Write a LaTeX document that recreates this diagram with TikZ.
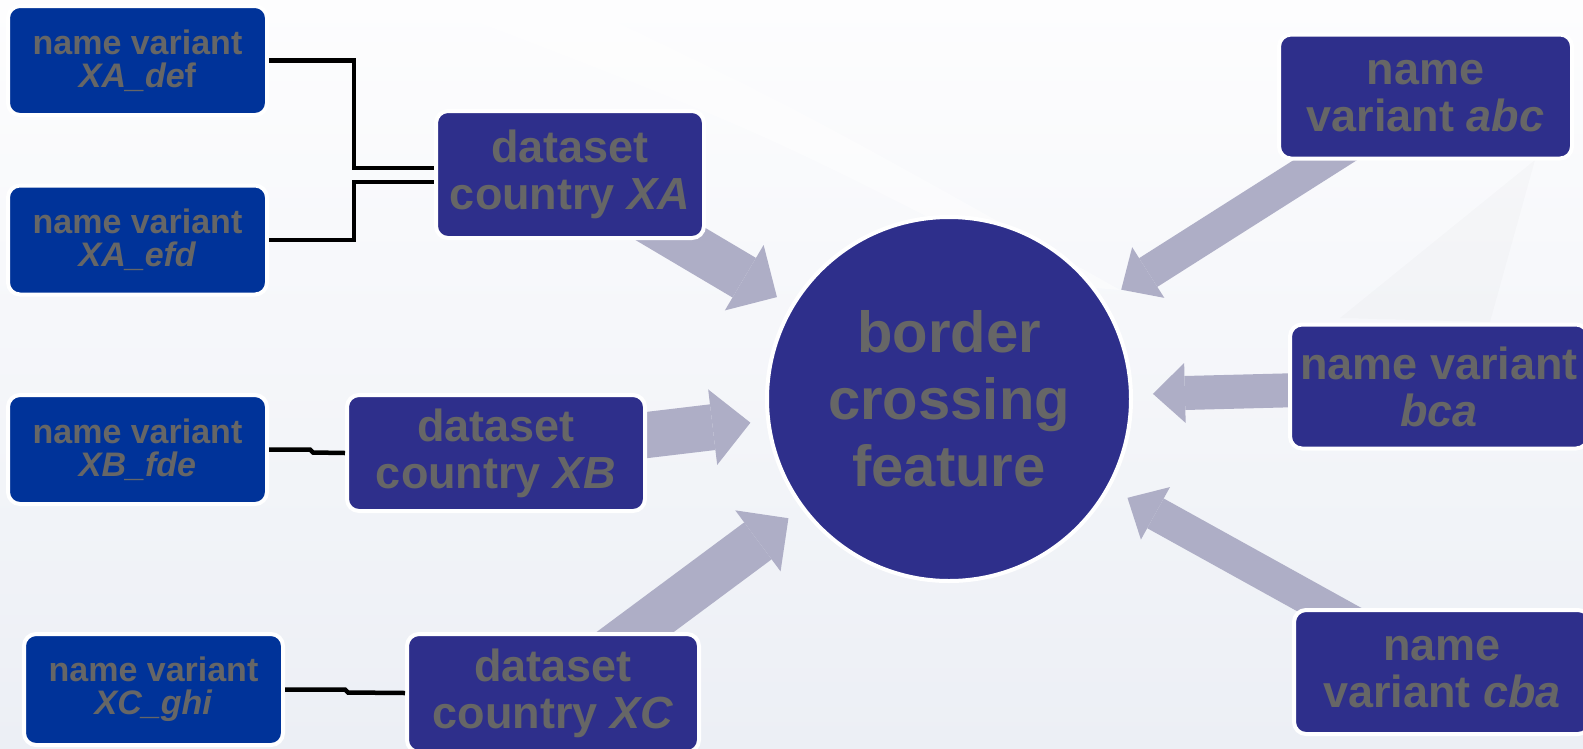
\documentclass[tikz,border=0pt]{standalone}
\usepackage{fontspec}
\setmainfont{Liberation Sans}
\usetikzlibrary{arrows.meta}

\definecolor{nvblue}{RGB}{0,51,153}
\definecolor{dsblue}{RGB}{46,47,139}
\definecolor{txtgray}{RGB}{102,102,102}
\definecolor{arrowgray}{RGB}{174,174,198}
\definecolor{bgtop}{RGB}{253,253,254}
\definecolor{bgbot}{RGB}{236,239,245}

\pgfdeclarelayer{bg}
\pgfdeclarelayer{arrowlayer}
\pgfsetlayers{bg,arrowlayer,main}

\tikzset{
 nvbox/.style={draw=white, line width=4pt, fill=nvblue, rounded corners=12pt, text=txtgray,
   font=\bfseries\fontsize{34}{33}\selectfont, align=center, inner sep=0pt,
   minimum width=259pt, minimum height=109pt},
 dsbox/.style={nvbox, fill=dsblue, font=\bfseries\fontsize{45}{47}\selectfont},
 rightbox/.style={dsbox, minimum width=295pt, minimum height=124pt},
 hub/.style={circle, draw=white, line width=4pt, fill=dsblue, text=txtgray,
   font=\bfseries\fontsize{58}{67}\selectfont, align=center, minimum size=364pt, inner sep=0pt},
 link/.style={black, line width=4.5pt},
 bigarrow/.style={arrowgray, line width=46pt, shorten >=16pt,
   -{Triangle[width=76pt,length=38pt,line width=0pt]}},
 smallarrow/.style={arrowgray, line width=34pt, shorten >=20pt,
   -{Triangle[width=60pt,length=32pt,line width=0pt]}}
}

\begin{document}
\begin{tikzpicture}[x=1pt,y=-1pt]
\useasboundingbox (0,0) rectangle (1583,748);
\begin{pgfonlayer}{bg}
\shade[top color=bgtop, bottom color=bgbot] (0,0) rectangle (1583,748);
\fill[white, opacity=.45] (420,0) -- (570,0) .. controls (800,110) .. (1120,290) -- (1060,285) .. controls (760,130) .. cycle;
\fill[black, opacity=.015] (1340,318) -- (1535,160) -- (1490,322) -- cycle;
\end{pgfonlayer}

% left: name variants
\node[nvbox] (nvxadef) at (137.5,60.5) {name variant\\\textit{XA\_de}f};
\node[nvbox] (nvxaefd) at (137.5,240) {name variant\\\textit{XA\_efd}};
\node[nvbox] (nvxbfde) at (137.5,449.5) {name variant\\\textit{XB\_fde}};
\node[nvbox, minimum height=111pt] (nvxcghi) at (153.5,689.5) {name variant\\\textit{XC\_ghi}};

% datasets
\node[dsbox, minimum width=268pt, minimum height=127pt] (dsxa) at (570,174.5) {dataset\\country \textit{XA}};
\node[dsbox, minimum width=298pt, minimum height=116pt] (dsxb) at (496,453) {dataset\\country \textit{XB}};
\node[dsbox, minimum width=292pt, minimum height=118pt] (dsxc) at (553,693) {dataset\\country \textit{XC}};

% centre
\node[hub] (bcf) at (949,399) {border\\crossing\\feature};

% right: name variants
\node[rightbox, minimum width=293pt] (nvabc) at (1425.5,96.5) {name\\variant \textit{abc}};
\node[rightbox, minimum width=298pt] (nvbca) at (1439,386.5) {name variant\\\textit{bca}};
\node[rightbox, minimum width=296pt] (nvcba) at (1442,672) {name\\variant \textit{cba}};

% links
\draw[link] (nvxadef.east) -- ++(85,0) |- ([yshift=6.5pt]dsxa.west);
\draw[link] (nvxaefd.east) -- ++(85,0) |- ([yshift=-7.5pt]dsxa.west);
\draw[link] (nvxbfde.east) -- ++(41,0) -- ++(3,3) -- (dsxb.west);
\draw[link] (nvxcghi.east) -- ++(60,0) -- ++(3,3) -- (dsxc.west);

\begin{pgfonlayer}{arrowlayer}
\foreach \src in {dsxa,dsxb,dsxc} \draw[bigarrow] (\src.center) -- (bcf);
\foreach \src in {nvabc,nvbca,nvcba} \draw[smallarrow] (\src.center) -- (bcf);
\end{pgfonlayer}

\end{tikzpicture}
\end{document}
